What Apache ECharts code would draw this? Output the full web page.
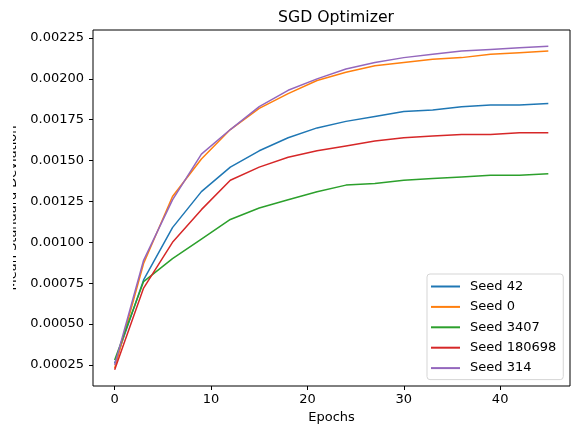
<!DOCTYPE html>
<html>
<head>
<meta charset="utf-8">
<script src="https://cdn.jsdelivr.net/npm/echarts@6/dist/echarts.min.js"></script>
<style>
  html, body { margin: 0; padding: 0; background: #fff; }
  #chart { width: 577px; height: 430px; }
</style>
</head>
<body>
<div id="chart"></div>
<script>
// epochs (sampled every 3)
var epochs = [0, 3, 6, 9, 12, 15, 18, 21, 24, 27, 30, 33, 36, 39, 42, 45];

var seed42 = [0.00026, 0.00077, 0.00109, 0.00131, 0.00146, 0.00156, 0.00164, 0.00170, 0.00174, 0.00177, 0.00180, 0.00181, 0.00183, 0.00184, 0.00184, 0.00185];
var seed0 = [0.00023, 0.00087, 0.00128, 0.00151, 0.00169, 0.00182, 0.00191, 0.00199, 0.00204, 0.00208, 0.00210, 0.00212, 0.00213, 0.00215, 0.00216, 0.00217];
var seed3407 = [0.00028, 0.00076, 0.00090, 0.00102, 0.00114, 0.00121, 0.00126, 0.00131, 0.00135, 0.00136, 0.00138, 0.00139, 0.00140, 0.00141, 0.00141, 0.00142];
var seed180698 = [0.00022, 0.00072, 0.00100, 0.00120, 0.00138, 0.00146, 0.00152, 0.00156, 0.00159, 0.00162, 0.00164, 0.00165, 0.00166, 0.00166, 0.00167, 0.00167];
var seed314 = [0.00025, 0.00089, 0.00126, 0.00154, 0.00169, 0.00183, 0.00193, 0.00200, 0.00206, 0.00210, 0.00213, 0.00215, 0.00217, 0.00218, 0.00219, 0.00220];

// tick labels
var xTicks = [0, 10, 20, 30, 40];
var yTicks = [0.00025, 0.00050, 0.00075, 0.00100, 0.00125, 0.00150, 0.00175, 0.00200, 0.00225];

var names = ['Seed 42', 'Seed 0', 'Seed 3407', 'Seed 180698', 'Seed 314'];
var colors = ['#1f77b4', '#ff7f0e', '#2ca02c', '#d62728', '#9467bd'];
var allData = [seed42, seed0, seed3407, seed180698, seed314];

function pairs(ys) {
    return epochs.map(function (x, i) { return [x, ys[i]]; });
}

var font = 'DejaVu Sans';
var chart = echarts.init(document.getElementById('chart'));
var option = {
    animation: false,
    title: {
        text: 'SGD Optimizer',
        left: 331,
        textAlign: 'center',
        top: 5,
        textStyle: { fontFamily: font, fontSize: 15.7, fontWeight: 'normal', color: '#000' }
    },
    // the source picture is cropped through the y axis title
    graphic: [{
        type: 'rect',
        left: 0,
        top: 0,
        z: 100,
        shape: { width: 13, height: 430 },
        style: { fill: '#fff' }
    }],
    grid: {
        left: 93,
        right: 7,
        top: 30,
        bottom: 44,
        outerBoundsMode: 'none',
        containLabel: false,
        show: true,
        borderColor: '#000',
        borderWidth: 1
    },
    legend: {
        orient: 'vertical',
        left: 427,
        top: 274,
        padding: [5, 7, 4, 4],
        itemWidth: 29,
        itemHeight: 2,
        itemGap: 5.4,
        icon: 'rect',
        borderColor: '#d5d5d5',
        borderWidth: 1,
        borderRadius: 3,
        backgroundColor: 'rgba(255,255,255,0.8)',
        textStyle: { fontFamily: font, fontSize: 13, color: '#000', lineHeight: 15, padding: [0, 0, 0, 5] },
        data: names
    },
    xAxis: {
        type: 'value',
        min: -2.25,
        max: 47.25,
        name: 'Epochs',
        nameLocation: 'middle',
        nameGap: 25,
        nameTextStyle: { fontFamily: font, fontSize: 13, color: '#000' },
        splitLine: { show: false },
        axisLine: { show: false, onZero: false },
        axisTick: { show: true, length: 4, customValues: xTicks, lineStyle: { color: '#000' } },
        axisLabel: { customValues: xTicks, margin: 7, fontFamily: font, fontSize: 13, color: '#000' }
    },
    yAxis: {
        type: 'value',
        min: 0.000121,
        max: 0.002299,
        name: 'Mean Standard Deviation',
        nameLocation: 'middle',
        nameGap: 73.5,
        nameTextStyle: { fontFamily: font, fontSize: 13, color: '#000' },
        splitLine: { show: false },
        axisLine: { show: false, onZero: false },
        axisTick: { show: true, length: 4, customValues: yTicks, lineStyle: { color: '#000' } },
        axisLabel: {
            customValues: yTicks,
            margin: 9,
            fontFamily: font,
            fontSize: 13,
            color: '#000',
            formatter: function (v) { return v.toFixed(5); }
        }
    },
    series: names.map(function (n, i) {
        return {
            name: n,
            type: 'line',
            data: pairs(allData[i]),
            showSymbol: false,
            color: colors[i],
            lineStyle: { width: 1.5, color: colors[i] }
        };
    })
};
chart.setOption(option);
</script>
</body>
</html>
